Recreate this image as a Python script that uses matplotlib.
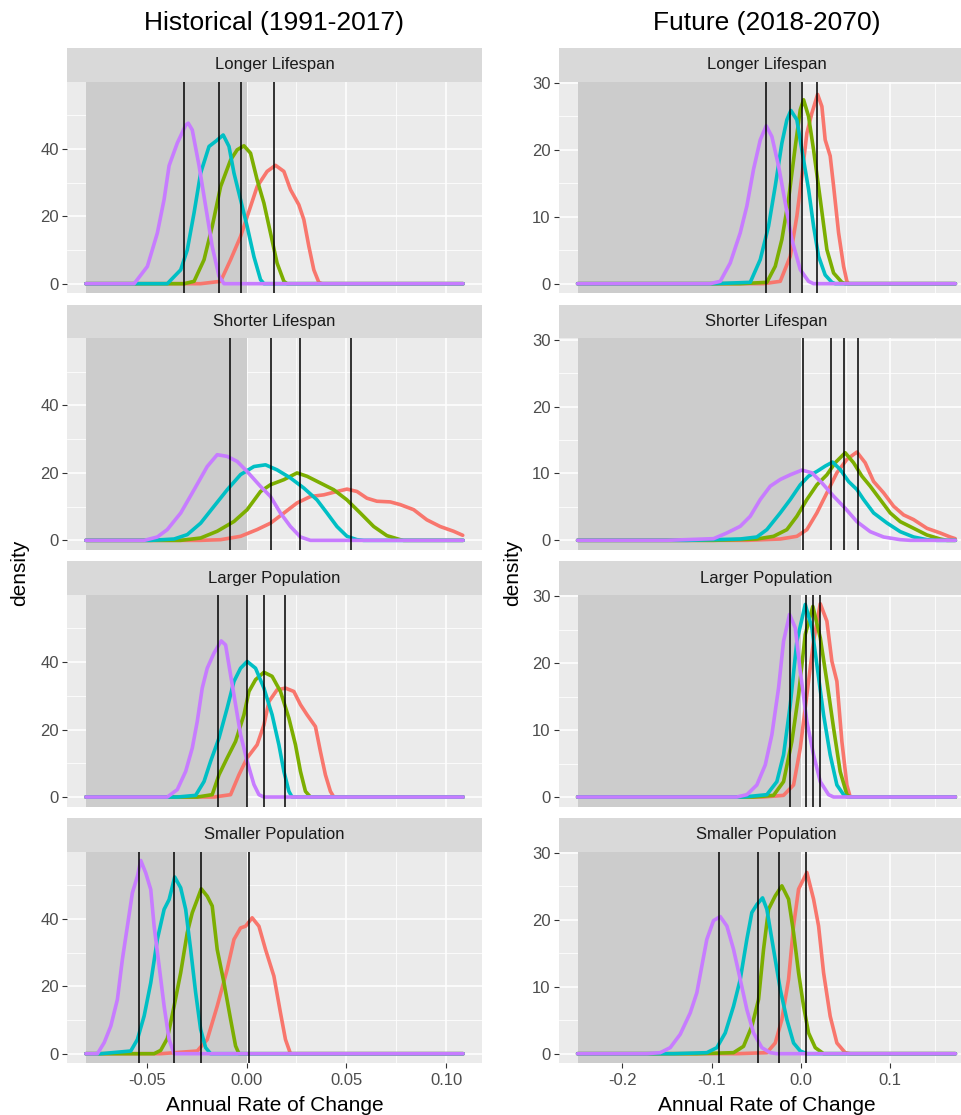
import matplotlib
matplotlib.use("Agg")
import matplotlib.pyplot as plt

plt.rcParams["font.family"] = ["Liberation Sans", "DejaVu Sans"]

FACETS = ["Longer Lifespan", "Shorter Lifespan", "Larger Population", "Smaller Population"]
SERIES = ["red", "green", "cyan", "purple"]
COLORS = {"red": "#F8766D", "green": "#7CAE00", "cyan": "#00BFC4", "purple": "#C77CFF"}

# data range of the pooled samples (density is 0 outside each group's support)
HIST_RANGE = (-0.0805, 0.1085)
FUT_RANGE = (-0.25, 0.173)

# mean of each series per facet: red, green, cyan, purple
HIST_MEANS = {
    "Longer Lifespan": [0.0137, -0.003, -0.014, -0.0312],
    "Shorter Lifespan": [0.0523, 0.027, 0.0123, -0.0083],
    "Larger Population": [0.0195, 0.0087, 0.0003, -0.0142],
    "Smaller Population": [0.001, -0.023, -0.0362, -0.0537],
}
FUT_MEANS = {
    "Longer Lifespan": [0.0179, 0.0015, -0.0119, -0.0392],
    "Shorter Lifespan": [0.0638, 0.0485, 0.034, 0.0022],
    "Larger Population": [0.0217, 0.0131, 0.0052, -0.0119],
    "Smaller Population": [0.0056, -0.0246, -0.0482, -0.0918],
}

# density curves, (x, density)
HIST_LONGER = {
    "red": [(-0.023, 0), (-0.013, 0.7), (-0.008, 7.1), (-0.003, 14), (0.002, 22.9), (0.0053, 28.8),
            (0.0103, 33.3), (0.0145, 35.1), (0.0187, 33.3), (0.022, 27.9), (0.0262, 23.4), (0.0287, 19),
            (0.0312, 11.1), (0.0337, 4.1), (0.0362, 0.4), (0.0378, 0)],
    "green": [(-0.0313, 0), (-0.0263, 0.7), (-0.0213, 7.1), (-0.0172, 17), (-0.013, 28.8), (-0.008, 36.7),
              (-0.0047, 39.7), (-0.0013, 40.9), (0.002, 38.7), (0.0053, 30.8), (0.0087, 23.9), (0.012, 15),
              (0.0153, 6.1), (0.0187, 0.7), (0.0203, 0)],
    "cyan": [(-0.0397, 0), (-0.033, 4.1), (-0.0297, 10), (-0.0263, 21), (-0.023, 32.8), (-0.0188, 40.7),
             (-0.0155, 42.2), (-0.0117, 44.1), (-0.0088, 40.7), (-0.0063, 32.8), (-0.003, 24.9),
             (0.0003, 17), (0.0037, 8), (0.007, 1.2), (0.0087, 0)],
    "purple": [(-0.0563, 0), (-0.0497, 5.1), (-0.0447, 15), (-0.0413, 25), (-0.0388, 35), (-0.0347, 41.7),
               (-0.0305, 47), (-0.0292, 47.6), (-0.0272, 45.6), (-0.0238, 35), (-0.0205, 23),
               (-0.0172, 11), (-0.0138, 2.2), (-0.0113, 0)],
}
HIST_SHORTER = {
    "red": [(-0.023, 0), (-0.013, 0.2), (-0.003, 1.2), (0.0053, 3.2), (0.012, 5.1), (0.0187, 8.1),
            (0.0253, 11.1), (0.032, 13), (0.0387, 13.5), (0.0453, 14.5), (0.0503, 15.2), (0.0553, 14.5),
            (0.0603, 12.5), (0.0653, 11.6), (0.072, 11.4), (0.077, 10.6), (0.0837, 9.1), (0.0903, 6.1),
            (0.097, 4.1), (0.1037, 2.7), (0.1083, 1.5)],
    "green": [(-0.033, 0), (-0.023, 0.7), (-0.0147, 2.7), (-0.0063, 5.6), (0.0003, 9.1), (0.007, 14.5),
              (0.012, 16.5), (0.0187, 18), (0.0253, 20), (0.0303, 19), (0.037, 17), (0.0437, 15),
              (0.0503, 12), (0.057, 8.1), (0.0637, 4.1), (0.0703, 1.4), (0.077, 0.2), (0.0787, 0)],
    "cyan": [(-0.048, 0), (-0.0363, 0.4), (-0.0297, 1.7), (-0.023, 5.1), (-0.0163, 10.1), (-0.0097, 15),
             (-0.003, 19.5), (0.0037, 21.9), (0.0095, 22.4), (0.0153, 20.9), (0.022, 18.5), (0.0287, 15.5),
             (0.0353, 12), (0.0403, 8.1), (0.0453, 4.1), (0.0503, 1.2), (0.0553, 0.2), (0.0587, 0)],
    "purple": [(-0.0513, 0), (-0.0447, 1), (-0.0397, 3.2), (-0.033, 8.1), (-0.0263, 15), (-0.0197, 21.9),
               (-0.0147, 25.4), (-0.0097, 24.9), (-0.0047, 23.4), (0.0003, 20.4), (0.007, 16),
               (0.012, 13), (0.017, 8.1), (0.022, 4.1), (0.027, 1), (0.032, 0)],
}
HIST_LARGER = {
    "red": [(-0.0163, 0), (-0.008, 0.7), (-0.0038, 6.6), (0.0003, 11.6), (0.0053, 15.5), (0.0087, 21.4),
            (0.0112, 28.3), (0.0153, 31.8), (0.0195, 32.3), (0.0237, 31.3), (0.027, 27.4), (0.0303, 24.4),
            (0.0345, 20.9), (0.037, 13.5), (0.0395, 6.6), (0.042, 1.7), (0.0437, 0)],
    "green": [(-0.0247, 0), (-0.0172, 0.7), (-0.0138, 6.6), (-0.0097, 11.6), (-0.0055, 16.5),
              (-0.0013, 24.4), (0.0012, 31.3), (0.0045, 34.8), (0.0087, 37), (0.0128, 35.8), (0.017, 31.3),
              (0.0212, 23.4), (0.0245, 15.5), (0.027, 7.6), (0.0295, 1.7), (0.032, 0)],
    "cyan": [(-0.0347, 0), (-0.0255, 0.5), (-0.0213, 4.6), (-0.018, 10.6), (-0.0138, 17.5), (-0.0097, 26.4),
             (-0.0063, 34.3), (-0.003, 38.2), (0.0003, 40.2), (0.0045, 38.2), (0.0087, 32.3),
             (0.0128, 24.4), (0.0162, 15.5), (0.0187, 7.6), (0.0212, 1.7), (0.0228, 0)],
    "purple": [(-0.0397, 0), (-0.0347, 2.2), (-0.0305, 7.6), (-0.0272, 14.5), (-0.0247, 22.4),
               (-0.0222, 32.3), (-0.0197, 38.2), (-0.0163, 42.7), (-0.0127, 46.3), (-0.0105, 45.1),
               (-0.008, 36.2), (-0.0055, 27.4), (-0.003, 18.5), (0.0003, 10.6), (0.0037, 3.7),
               (0.0062, 0.7), (0.0087, 0)],
}
HIST_SMALLER = {
    "red": [(-0.043, 0), (-0.0247, 0.8), (-0.0197, 4.2), (-0.0147, 14.1), (-0.0097, 25), (-0.0063, 33.9),
            (-0.003, 37.3), (-0.0005, 37.8), (0.0028, 40.3), (0.0062, 37.8), (0.0095, 30.9), (0.0137, 23),
            (0.017, 12.1), (0.0195, 4.2), (0.022, 0)],
    "green": [(-0.0463, 0), (-0.043, 1.0), (-0.0397, 4.5), (-0.0363, 14.1), (-0.033, 24), (-0.0297, 35.9),
              (-0.0272, 41.8), (-0.0247, 45.7), (-0.0227, 48.9), (-0.0197, 46.7), (-0.0172, 43.8),
              (-0.0147, 30.9), (-0.0113, 21), (-0.008, 10.2), (-0.0055, 2.3), (-0.0038, 0)],
    "cyan": [(-0.073, 0), (-0.058, 0.8), (-0.0547, 4.2), (-0.0513, 11.2), (-0.048, 21), (-0.0447, 33.9),
             (-0.0413, 42.8), (-0.0388, 45.7), (-0.036, 52.4), (-0.033, 49.2), (-0.0305, 42.8),
             (-0.028, 30.9), (-0.0255, 18.1), (-0.023, 7.2), (-0.0205, 1.8), (-0.018, 0)],
    "purple": [(-0.0747, 0), (-0.0713, 3.3), (-0.068, 8.2), (-0.0647, 16.1), (-0.0622, 28), (-0.0597, 37.8),
               (-0.0572, 47.7), (-0.0547, 52.6), (-0.053, 57.3), (-0.0505, 53.6), (-0.048, 48.7),
               (-0.0463, 37.8), (-0.0438, 26), (-0.0413, 14.1), (-0.0388, 4.2), (-0.0363, 0)],
}

FUT_LONGER = {
    "red": [(-0.0418, 0), (-0.0231, 0.35), (-0.0119, 4.1), (-0.0045, 10.1), (0.0011, 16.1), (0.0067, 22.5),
            (0.0123, 25.5), (0.0187, 28.3), (0.0235, 26.5), (0.0272, 21.5), (0.0328, 19.1), (0.0366, 14.6),
            (0.0422, 7.6), (0.0478, 2.6), (0.0515, 0.35), (0.0534, 0)],
    "green": [(-0.0679, 0), (-0.0381, 0.2), (-0.0287, 2.6), (-0.0213, 6.6), (-0.0138, 12.6), (-0.0063, 20.5),
              (-0.0007, 26), (0.003, 27.5), (0.0086, 25), (0.0142, 20), (0.0217, 12.6), (0.0291, 5.1),
              (0.0366, 1.6), (0.0459, 0.2), (0.0496, 0)],
    "cyan": [(-0.0978, 0), (-0.0567, 0.2), (-0.0455, 3.6), (-0.0362, 8.6), (-0.0287, 14.6), (-0.0213, 21),
             (-0.0157, 24.5), (-0.0112, 25.9), (-0.0045, 24.5), (0.0011, 20), (0.0086, 14.1), (0.0142, 8.6),
             (0.0198, 4.1), (0.0272, 1.3), (0.0347, 0.2), (0.0384, 0)],
    "purple": [(-0.1015, 0), (-0.0903, 0.35), (-0.0791, 3.1), (-0.0679, 7.6), (-0.0605, 11.6), (-0.053, 17.1),
               (-0.0455, 21.5), (-0.0388, 23.6), (-0.0325, 22), (-0.025, 17.6), (-0.0175, 12.1),
               (-0.0101, 6.6), (-0.0007, 2.1), (0.0086, 0.35), (0.0142, 0)],
}
FUT_SHORTER = {
    "red": [(-0.0605, 0), (-0.0231, 0.2), (-0.0045, 0.6), (0.0067, 1.6), (0.0179, 4.1), (0.0291, 7.1),
            (0.0403, 10.1), (0.0515, 12.1), (0.0627, 13.2), (0.072, 11.6), (0.0814, 8.8), (0.0926, 7.1),
            (0.1038, 5.1), (0.115, 3.8), (0.1262, 3.1), (0.1411, 1.8), (0.156, 1.1), (0.1672, 0.5),
            (0.1728, 0.25)],
    "green": [(-0.0978, 0), (-0.0493, 0.2), (-0.0306, 0.6), (-0.0157, 1.6), (-0.0045, 3.6), (0.0067, 6.1),
              (0.0179, 8.3), (0.0291, 9.8), (0.0384, 11.6), (0.0496, 13.1), (0.059, 11.6), (0.0683, 9.6),
              (0.0776, 8.1), (0.0888, 6.1), (0.1, 4.1), (0.1112, 2.8), (0.1262, 1.8), (0.1411, 0.8),
              (0.156, 0.2), (0.1635, 0)],
    "cyan": [(-0.1277, 0), (-0.0679, 0.2), (-0.0493, 0.5), (-0.0381, 1.6), (-0.0231, 4.1), (-0.0119, 6.1),
             (-0.0007, 8.3), (0.0086, 9.6), (0.0179, 10.3), (0.0272, 11.1), (0.0355, 11.7), (0.044, 10.6),
             (0.0534, 8.8), (0.0627, 7.6), (0.0702, 6.1), (0.0814, 4.1), (0.0963, 2.6), (0.1112, 1.3),
             (0.1262, 0.5), (0.1411, 0.1), (0.1523, 0)],
    "purple": [(-0.15, 0), (-0.0978, 0.25), (-0.0829, 1.1), (-0.0679, 2.1), (-0.0567, 3.6), (-0.0455, 6.1),
               (-0.0343, 8.1), (-0.0231, 9.1), (-0.0119, 9.8), (0.0011, 10.5), (0.0123, 10.1),
               (0.0235, 8.6), (0.0366, 6.6), (0.0496, 4.8), (0.0627, 2.8), (0.0776, 1.3), (0.0926, 0.5),
               (0.1112, 0.1), (0.1224, 0)],
}
FUT_LARGER = {
    "red": [(-0.0418, 0), (-0.0194, 0.25), (-0.0082, 1.8), (-0.0007, 7.3), (0.0067, 15.3), (0.0142, 23.3),
            (0.0217, 28.9), (0.0291, 26.3), (0.0347, 20.3), (0.0403, 17.3), (0.0459, 8.3), (0.0515, 1.8),
            (0.0552, 0)],
    "green": [(-0.053, 0), (-0.0306, 0.25), (-0.0194, 2.3), (-0.0101, 8.3), (-0.0026, 15.3), (0.0049, 24.3),
              (0.0134, 28.5), (0.0217, 23.8), (0.0291, 17.3), (0.0366, 10.3), (0.044, 3.8), (0.0515, 0.35),
              (0.0552, 0)],
    "cyan": [(-0.0642, 0), (-0.0381, 0.35), (-0.0269, 2.3), (-0.0194, 6.3), (-0.0119, 13.8), (-0.0045, 23.3),
             (0.0049, 28.8), (0.0123, 25.3), (0.0179, 19.8), (0.0254, 12.3), (0.0328, 6.3), (0.0403, 1.8),
             (0.0478, 0.35), (0.0515, 0)],
    "purple": [(-0.0717, 0), (-0.0605, 0.35), (-0.0493, 1.8), (-0.0399, 4.8), (-0.0325, 9.3), (-0.025, 16.3),
               (-0.0194, 23.3), (-0.0127, 27.3), (-0.0063, 25.3), (-0.0007, 18.8), (0.0067, 11.3),
               (0.0142, 6.3), (0.0217, 2.3), (0.031, 0.35), (0.0366, 0)],
}
FUT_SMALLER = {
    "red": [(-0.0717, 0), (-0.0381, 0.15), (-0.0287, 1.6), (-0.0213, 5.1), (-0.0138, 11.1), (-0.0082, 19.1),
            (-0.0026, 24.6), (0.0067, 27.1), (0.0142, 23.1), (0.0198, 19.1), (0.0254, 12.1), (0.0328, 5.6),
            (0.0403, 1.6), (0.0496, 0.15), (0.0552, 0)],
    "green": [(-0.1165, 0), (-0.0754, 0.15), (-0.0642, 1.1), (-0.0549, 4.1), (-0.0474, 8.1), (-0.0418, 15.6),
              (-0.0362, 21.6), (-0.0287, 23.6), (-0.0213, 25.1), (-0.0138, 23.1), (-0.0082, 18.1),
              (-0.0026, 12.1), (0.003, 7.1), (0.0086, 3.1), (0.0161, 0.9), (0.0254, 0)],
    "cyan": [(-0.1426, 0), (-0.1053, 0.15), (-0.0941, 0.9), (-0.0847, 3.1), (-0.0754, 7.1), (-0.0679, 11.1),
             (-0.0605, 17.1), (-0.0549, 21.1), (-0.0493, 22.3), (-0.0429, 23.3), (-0.0381, 21.6),
             (-0.0306, 15.6), (-0.0231, 9.6), (-0.0157, 5.1), (-0.0082, 1.6), (-0.0007, 0.4), (0.0067, 0)],
    "purple": [(-0.1725, 0), (-0.1575, 0.15), (-0.1463, 0.9), (-0.1351, 2.9), (-0.1239, 6.1), (-0.1165, 9.1),
               (-0.1109, 13.1), (-0.1053, 17.1), (-0.0978, 19.9), (-0.0903, 20.5), (-0.0829, 19.1),
               (-0.0754, 15.6), (-0.0679, 11.1), (-0.0605, 6.6), (-0.053, 3.1), (-0.0437, 0.9),
               (-0.0343, 0.15), (-0.0269, 0)],
}

HIST_CURVES = [HIST_LONGER, HIST_SHORTER, HIST_LARGER, HIST_SMALLER]
FUT_CURVES = [FUT_LONGER, FUT_SHORTER, FUT_LARGER, FUT_SMALLER]

HIST_XTICKS = [-0.05, 0.0, 0.05, 0.10]
HIST_XLABELS = ["-0.05", "0.00", "0.05", "0.10"]
HIST_XMINOR = [-0.075, -0.025, 0.025, 0.075]
HIST_YTICKS = [0, 20, 40]
HIST_YMINOR = [10, 30, 50]

FUT_XTICKS = [-0.2, -0.1, 0.0, 0.1]
FUT_XLABELS = ["-0.2", "-0.1", "0.0", "0.1"]
FUT_XMINOR = [-0.25, -0.15, -0.05, 0.05, 0.15]
FUT_YTICKS = [0, 10, 20, 30]
FUT_YMINOR = [5, 15, 25]

# ---- layout (pixels) ----
W, H = 961, 1115
fig = plt.figure(figsize=(W / 100, H / 100), dpi=100)
fig.patch.set_facecolor("white")


def px_axes(x0, y0, x1, y1):
    return fig.add_axes([x0 / W, 1 - y1 / H, (x1 - x0) / W, (y1 - y0) / H])


def pad_curve(pts, xr):
    xs = [p[0] for p in pts]
    ys = [p[1] for p in pts]
    if xs[0] > xr[0]:
        xs = [xr[0]] + xs
        ys = [0] + ys
    if ys[-1] == 0 and xs[-1] < xr[1]:
        xs = xs + [xr[1]]
        ys = ys + [0]
    return xs, ys


def draw_column(x0, x1, curves, means, xr, ylim, yticks, yminor, xticks, xlabels, xminor,
                title, title_x, ylab_x):
    span = xr[1] - xr[0]
    xlim = (xr[0] - 0.05 * span, xr[1] + 0.05 * span)
    for r, facet in enumerate(FACETS):
        top = 48 + r * 256.67
        strip = px_axes(x0, top, x1, top + 33.7)
        strip.set_facecolor("#D9D9D9")
        strip.set_xticks([])
        strip.set_yticks([])
        for s in strip.spines.values():
            s.set_visible(False)
        strip.text(0.5, 0.5, facet, ha="center", va="center", fontsize=12, color="#1A1A1A",
                   transform=strip.transAxes)

        ax = px_axes(x0, top + 33.7, x1, top + 33.7 + 211.6)
        ax.set_facecolor("#EBEBEB")
        ax.set_axisbelow(True)
        for s in ax.spines.values():
            s.set_visible(False)
        ax.set_xlim(xlim)
        ax.set_ylim(ylim)
        ax.set_xticks(xticks)
        ax.set_xticks(xminor, minor=True)
        ax.set_yticks(yticks)
        ax.set_yticks(yminor, minor=True)
        ax.grid(which="major", color="white", linewidth=1.1)
        ax.grid(which="minor", color="white", linewidth=0.55)
        ax.tick_params(which="minor", length=0)
        ax.tick_params(axis="y", which="major", length=3.7, width=0.8, color="#333333",
                       labelsize=12, labelcolor="#4D4D4D", pad=2.2)
        if r == 3:
            ax.set_xticklabels(xlabels)
            ax.tick_params(axis="x", which="major", length=3.7, width=0.8, color="#333333",
                           labelsize=12, labelcolor="#4D4D4D", pad=3)
        else:
            ax.tick_params(axis="x", which="major", length=0, labelbottom=False)

        ax.axvspan(xr[0], 0, color="#CCCCCC", lw=0, zorder=1)
        for name in SERIES:
            xs, ys = pad_curve(curves[r][name], xr)
            ax.plot(xs, ys, color=COLORS[name], lw=2.6, solid_joinstyle="round",
                    solid_capstyle="round", zorder=2)
        for m in means[facet]:
            ax.axvline(m, color="black", lw=1.1, zorder=3)

    fig.text(title_x / W, 1 - 23 / H, title, ha="center", va="center", fontsize=19, color="black")
    fig.text(ylab_x / W, 1 - 573 / H, "density", ha="center", va="center", rotation=90,
             fontsize=15, color="black")
    fig.text(title_x / W, 1 - 1111 / H, "Annual Rate of Change", ha="center", va="baseline",
             fontsize=15, color="black")


draw_column(67, 482, HIST_CURVES, HIST_MEANS, HIST_RANGE, (-2.85, 59.9), HIST_YTICKS, HIST_YMINOR,
            HIST_XTICKS, HIST_XLABELS, HIST_XMINOR, "Historical (1991-2017)", 274.5, 20)
draw_column(558.7, 974.3, FUT_CURVES, FUT_MEANS, FUT_RANGE, (-1.44, 30.2), FUT_YTICKS, FUT_YMINOR,
            FUT_XTICKS, FUT_XLABELS, FUT_XMINOR, "Future (2018-2070)", 766.5, 513)

fig.savefig("out.png", dpi=100)
